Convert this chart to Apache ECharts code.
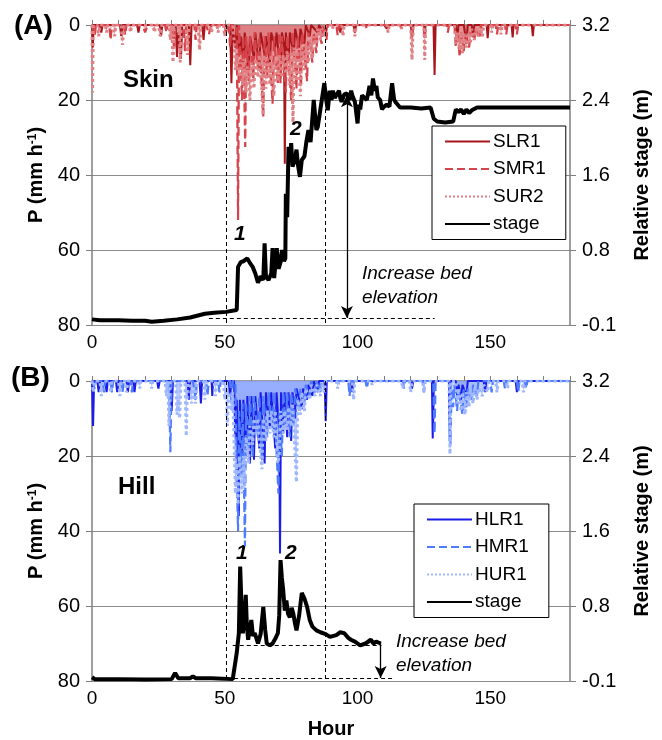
<!DOCTYPE html>
<html>
<head>
<meta charset="utf-8">
<script src="https://cdn.jsdelivr.net/npm/echarts@6/dist/echarts.min.js"></script>
<style>html,body{margin:0;padding:0;background:#fff}#c{width:662px;height:740px}</style>
</head>
<body>
<div id="c"></div>
<script>
// ---------- DATA ----------
const xTicks = [0, 50, 100, 150];
const pTicks = [0, 20, 40, 60, 80];
const stageTicks = ['-0.1', '0.8', '1.6', '2.4', '3.2'];
const eventHours = [50.5, 88];

// Panel A precipitation (hour, mm/h)
const SLR1 = [[0,0],[0.3,6],[0.6,0],[3,0],[3.5,2],[4,0],[10.5,0],[11,3],[11.5,0],[17,0],[17.5,2],[18,0],[25.5,0],[26,3],[26.5,0],[31.5,0],[32,8.5],[32.5,2],[33.5,9],[34,0],[36.5,0],[37,10.7],[37.5,0],[41.5,0],[42,4],[42.5,0],[50,0],[50.5,2],[51,0],[52,0],[52.5,15.5],[53,1],[54,6],[54.5,0],[55.5,8],[56,3],[57,10],[57.5,2],[59,12],[59.5,3],[61,9],[61.5,2],[63,12],[63.5,2],[65,8],[65.5,3],[67,10],[67.5,2],[69,6],[69.5,2],[71,13],[71.5,2],[72.3,5],[72.6,37],[73,2],[74,10],[74.5,2],[76,8],[76.5,1],[78,6],[78.5,1],[80,5],[80.5,0],[82,3],[82.5,0],[85,2],[85.5,0],[88,3],[88.5,0],[93,0],[93.5,2],[94,0],[98.5,0],[99,2],[99.5,0],[110,0],[111,1],[112,0],[120,0],[120.5,3],[121,0],[125,0],[125.3,3],[125.6,0],[128.6,0],[129,13.3],[129.4,0],[137,0],[137.5,4],[138,0],[140,0],[141,5],[141.5,0],[143,0],[143.5,3],[144,0],[148.6,0],[149,3.5],[149.4,0],[158,0],[158.4,3.3],[158.8,0],[165.6,0],[166,3],[166.4,0],[180,0]];
const SMR1 = [[0,0],[1,3],[1.5,0],[6.5,0],[7,4],[7.5,0],[12,0],[12.5,2.7],[13,0],[19,0],[20,2],[21,0],[27.5,0],[28,2],[28.5,0],[30,0],[31,6],[31.5,0],[34.5,0],[35,7],[35.5,0],[38.5,0],[39,4],[39.5,0],[43,0],[44,2.5],[45,0],[51.5,0],[52,6],[52.5,0],[54.5,0],[55,52],[55.4,0],[56,0],[56.5,20],[57,3],[57.7,32.5],[58.1,3],[59,15],[59.5,3],[60.7,14.7],[61.2,2],[62.5,12],[63,3],[64.5,24.5],[65,3],[66,14],[66.5,2],[68,21],[68.5,3],[70,16],[70.5,2],[71,15.5],[71.5,3],[73,18],[73.5,3],[75,20],[75.5,2],[77,17],[77.5,3],[78.7,16.5],[79.2,2],[81,15],[81.5,2],[83,10],[83.5,2],[84.5,7.5],[85,1],[86.5,5],[87,0],[88.3,4],[88.8,0],[92,0],[92.5,2.7],[93,0],[103,0],[103.5,1],[104,0],[116,0],[116.5,1],[117,0],[120,0],[120.5,4],[121,0],[124.8,0],[125.3,4],[125.8,0],[133.5,0],[134,2],[134.5,0],[136.5,0],[137,6],[137.5,2],[138.5,8.5],[139,2],[140,7],[140.5,3],[142,6],[142.5,2],[144,4],[144.5,1],[146,3],[146.5,0],[152,0],[152.5,2.5],[153,0],[155.5,0],[156,2.5],[156.5,0],[159.5,0],[160,2.5],[160.5,0],[180,0]];
const SUR2 = [[0,0],[0.2,18],[0.5,0],[2,0],[2.5,3],[3,0],[5,0],[5.5,2],[6,0],[8,0],[8.5,3],[9,0],[11,0],[11.5,5.3],[12,0],[14,0],[14.5,2],[15,0],[23,0],[23.5,2],[24,0],[25,0],[25.7,3],[26.3,0],[29,0],[29.5,4],[30,0],[30.5,10],[31,0],[32.8,0],[33.2,10],[33.6,0],[35.5,0],[36,8],[36.5,0],[40,0],[40.5,6.7],[41,0],[44.5,0],[45,2],[45.5,0],[47,0],[47.5,2],[48,0],[49.5,0],[50,3],[50.5,0],[53,0],[53.5,4],[54,12],[54.5,8],[55.5,14],[56,10],[56.8,16],[57.2,9],[58,18],[58.5,11],[59.5,20],[60,10],[61,17],[61.5,9],[62.5,14],[63,8],[64,18],[64.4,24],[64.8,8],[65.5,17],[66,9],[67,16],[67.5,8],[68.5,19],[69,9],[70,15],[70.5,8],[71.5,14],[72,8],[73,13],[73.5,7],[74.5,16],[75,7],[75.7,26],[76.1,6],[77,15],[77.5,7],[78.5,19],[79,6],[80,12],[80.5,5],[81.5,10],[82,4],[83,9],[83.5,3],[84.5,6],[85,1],[86,4],[86.5,1],[87.5,3],[88,0],[90,0],[90.5,1],[91,0],[94,0],[94.5,3],[95,0],[98.5,0],[99,3],[99.5,0],[111,0],[111.5,2],[112,0],[116,0],[116.5,1],[117,0],[120,0],[120.5,9.3],[121,0],[125,0],[125.3,9.3],[125.6,0],[136.5,0],[137,5],[137.5,2],[138.5,6.7],[139,2],[139.5,7.5],[140,2],[141,6],[141.5,2],[142.5,5],[143,1],[144,4],[144.5,1],[145.5,3],[146,1],[147,3],[147.5,0],[150,0],[150.5,2],[151,0],[153.5,0],[154,2.5],[154.5,0],[180,0]];

// Panel B precipitation (hour, mm/h)
const HLR1 = [[0,0],[0.4,12],[0.8,0],[2,0],[2.5,3],[3,0],[5,0],[5.5,3],[6,0],[9,0],[9.5,3],[10,0],[13,0],[13.5,3],[14,0],[15.5,0],[16,3],[16.5,0],[24.5,0],[25,2],[25.5,0],[29.5,0],[30,8],[30.5,0],[36,0],[36.5,5],[37,0],[40.5,0],[41,6],[41.5,0],[45,0],[45.3,4],[45.6,0],[51.5,0],[52,4],[52.5,0],[53.5,0],[54,15],[54.5,5],[55.3,36],[55.7,5],[56.5,22],[57,5],[58,20],[58.5,4],[59.5,22],[60,4],[61,21],[61.5,4],[63,18],[63.5,3],[65,22],[65.5,3],[67,12],[67.5,3],[69,18],[69.5,3],[70.5,14],[70.8,46],[71.2,3],[72,14],[72.5,3],[73.5,15],[74,3],[75,16],[75.5,3],[76.5,10],[77,2],[79,7.5],[79.5,2],[81,5],[81.5,1],[83,4],[83.5,0],[85,3],[85.5,0],[87.6,0],[88,10.7],[88.4,0],[97.5,0],[98,3],[98.5,0],[120,0],[120.5,2],[121,0],[128,0],[128.3,15.3],[128.7,0],[134.4,0],[134.7,16],[135,0],[137,0],[137.5,4],[138,1],[139,5],[139.5,1],[141,4],[141.5,0],[147.5,0],[148,3],[148.5,0],[159.5,0],[160,3],[160.5,0],[180,0]];
const HMR1 = [[0,0],[1,2],[1.5,0],[4,0],[4.5,3],[5,0],[7,0],[7.5,3],[8,0],[11,0],[11.5,3],[12,0],[14.5,0],[15,3],[15.5,0],[29,0],[29.5,19],[30,0],[38,0],[39,5],[39.5,0],[43,0],[43.5,4],[44,0],[47.5,0],[48,3],[48.5,0],[52,0],[52.5,6],[53,0],[54,0],[54.5,25],[55,40],[55.4,8],[56.3,25],[56.7,6],[57.6,44],[58,6],[59,18],[59.5,4],[60.5,20],[61,4],[62.5,15],[63,4],[64,21],[64.5,4],[66,15],[66.5,3],[68,13],[68.5,3],[70.2,30],[70.6,8],[71.5,20],[72,3],[73,12],[73.5,3],[74.5,15],[75,3],[76,12],[76.5,2],[78,8],[78.5,2],[80,6],[80.5,1],[82,4],[82.5,0],[84,3],[84.5,0],[86,3],[86.5,0],[96.5,0],[97,4],[97.5,0],[103,0],[103.5,2],[104,0],[117,0],[117.5,2],[118,0],[124.5,0],[125,3],[125.5,0],[128.5,0],[129,14],[129.4,0],[134.5,0],[135,17],[135.4,2],[136,7],[136.5,1],[137.5,8],[138,2],[139.5,9],[140,2],[141,7],[141.5,2],[143,5],[143.5,1],[145,4],[145.5,0],[150,0],[150.5,3],[151,0],[155,0],[155.5,2],[156,0],[160,0],[160.5,3],[161,0],[163,0],[163.5,2],[164,0],[180,0]];
const HUR1 = [[0,0],[0.5,3],[1,0],[3,0],[3.5,4],[4,0],[6.5,0],[7,3],[7.5,0],[10,0],[10.5,4],[11,0],[12.5,0],[13,3],[13.5,0],[17.5,0],[18,2],[18.5,0],[22,0],[22.5,2],[23,0],[27.5,0],[28,4],[28.5,0],[29,12],[29.5,0],[31.5,0],[32,9],[32.5,5],[33,10],[33.5,0],[35,0],[35.5,14.7],[36,0],[37,0],[37.5,6],[38,2],[39,6],[39.5,0],[42,0],[42.5,5],[43,0],[46,0],[46.5,4],[47,0],[49.5,0],[50,5],[50.5,2],[51,12],[51.5,3],[52.5,8],[53,3],[54,30],[54.5,22],[55,33],[55.5,20],[56.5,30],[57,20],[57.5,28],[58,15],[59,22],[59.5,12],[60.5,17],[61,10],[62,14],[62.5,10],[63.5,20],[64,23.5],[64.5,10],[65.5,16],[66,8],[67,14],[67.5,8],[68.5,15],[69,8],[70,22],[70.5,20],[71,8],[72,14],[72.5,8],[73.5,13],[74,7],[75,12],[75.5,6],[77,27],[77.5,5],[78.5,9],[79,3],[80,8],[80.5,2],[82,5],[82.5,1],[84,4],[84.5,1],[86,4],[86.5,1],[87.5,3],[88,0],[92,0],[92.5,2],[93,0],[98,0],[98.5,5],[99,0],[105,0],[105.5,1],[106,0],[116.5,0],[117,2],[117.5,0],[119.5,0],[120,3],[120.5,0],[124.5,0],[125,3],[125.5,0],[134.5,0],[134.8,19.5],[135.1,0],[137,0],[137.5,6],[138,2],[139,8],[139.5,3],[140.5,9],[141,3],[142,7],[142.5,2],[143.5,6],[144,2],[145,5],[145.5,2],[147,4],[147.5,1],[149,3],[149.5,0],[152,0],[152.5,3],[153,0],[156,0],[156.5,2],[157,0],[162,0],[162.5,3],[163,0],[180,0]];

// Relative stage (hour, m)
const stageA = [[0,0.06],[3,0.05],[10,0.05],[15,0.046],[20,0.046],[22.5,0.035],[27,0.045],[32,0.06],[37,0.08],[42.5,0.12],[46,0.13],[50.5,0.14],[54.5,0.16],[55,0.62],[56,0.67],[57,0.68],[58.5,0.71],[59.5,0.66],[60.5,0.62],[61.5,0.55],[62.5,0.45],[63.5,0.52],[64.5,0.48],[65,0.87],[65.5,0.52],[66.5,0.48],[67.5,0.55],[68,0.82],[68.6,0.5],[69.6,0.82],[70.3,0.6],[71,0.67],[71.6,0.8],[72.3,0.68],[72.8,0.71],[73,1.4],[73.5,1.15],[74,1.9],[74.5,1.75],[75,1.94],[75.5,1.69],[76.3,1.75],[77,1.87],[77.6,1.7],[78.3,1.58],[79,1.76],[80,1.8],[80.7,1.95],[81.5,2.08],[82.3,1.95],[83,1.97],[83.5,2.4],[84.5,2.08],[85,2.11],[86,2.3],[86.8,2.45],[87.5,2.58],[88.2,2.4],[88.8,2.29],[89.5,2.5],[90.2,2.4],[90.7,2.5],[91.4,2.42],[92,2.4],[93,2.5],[93.5,2.42],[94,2.38],[95,2.46],[96,2.47],[97,2.4],[97.6,2.5],[98,2.45],[99,2.38],[100,2.15],[100.5,2.35],[101,2.3],[101.7,2.45],[102.4,2.47],[103.5,2.4],[104.5,2.55],[105.2,2.45],[105.8,2.63],[106.5,2.5],[107.1,2.55],[107.6,2.43],[108.5,2.4],[109.2,2.3],[110,2.33],[111,2.35],[112,2.33],[113,2.58],[113.8,2.4],[114.5,2.37],[116,2.32],[120,2.32],[124,2.31],[127.5,2.32],[128.7,2.2],[130,2.17],[133,2.16],[136,2.17],[137,2.3],[138,2.27],[139,2.3],[140,2.25],[141,2.3],[142,2.26],[143,2.29],[145,2.32],[160,2.32],[180,2.32]];
const stageB = [[0,0.04],[1,0.02],[10,0.02],[20,0.015],[30,0.02],[31.3,0.085],[32.5,0.03],[37,0.03],[38,0.05],[39,0.03],[45,0.03],[53,0.02],[54.5,0.3],[55.3,0.51],[55.8,1.22],[56.3,0.8],[56.8,0.51],[57.5,0.7],[57.9,0.92],[58.3,0.6],[58.8,0.44],[59.4,0.55],[60,0.65],[60.6,0.48],[61.3,0.51],[62.5,0.4],[63.5,0.5],[64.5,0.79],[65.2,0.55],[65.8,0.4],[67,0.38],[68,0.4],[69,0.45],[70,0.51],[70.5,0.7],[71,1.29],[71.5,1.1],[72,0.97],[72.6,0.75],[73.2,0.86],[73.8,0.72],[74.5,0.68],[75.2,0.78],[75.8,0.72],[76.4,0.62],[77,0.54],[78,0.7],[79,0.94],[80,0.88],[81,0.79],[82,0.65],[83,0.58],[84.5,0.54],[86,0.52],[88,0.5],[89.6,0.47],[92,0.49],[93.5,0.52],[95,0.51],[96.5,0.46],[97.5,0.44],[99,0.42],[101,0.38],[103,0.4],[105,0.44],[106,0.4],[107,0.42],[108.7,0.4]];

// Bed-elevation reference levels: [startHour, endHour, stage m]
const bedA = [[44, 129, 0.075]];
const bedB = [[53, 109, 0.384], [53.5, 113.7, 0.032]];
// Bed-elevation arrows: [hour, fromStage, toStage]
const arrowA = [96, 2.45, 0.075];
const arrowB = [108.7, 0.42, 0.032];

// ---------- CHART ----------
const chart = echarts.init(document.getElementById('c'), null, {renderer: 'canvas'});
const FONT = 'Liberation Sans, Arial, sans-serif';
const gray = '#7f7f7f';

function xAxisDef(gi, withName) {
  return {
    type: 'value', gridIndex: gi, min: 0, max: 180, interval: 10,
    axisLine: {lineStyle: {color: gray, width: 1.5}},
    axisTick: {inside: true, length: 5, lineStyle: {color: gray}},
    splitLine: {show: false},
    axisLabel: {fontSize: 19, color: '#000', fontFamily: FONT, margin: 8,
      formatter: v => xTicks.includes(v) ? String(v) : ''},
    name: withName ? 'Hour' : '', nameLocation: 'middle', nameGap: 38,
    nameTextStyle: {fontSize: 20, fontWeight: 'bold', color: '#000', fontFamily: FONT}
  };
}
function pAxisDef(gi) {
  return {
    type: 'value', gridIndex: gi, inverse: true, min: 0, max: 80, interval: 20, position: 'left',
    axisLine: {show: true, lineStyle: {color: gray, width: 1.5}},
    axisTick: {show: true, length: 6, lineStyle: {color: gray}},
    splitLine: {show: true, lineStyle: {color: '#8c8c8c', width: 1.2}},
    axisLabel: {fontSize: 20, color: '#000', fontFamily: FONT, margin: 12,
      formatter: v => pTicks.includes(v) ? String(v) : ''},
    name: 'P (mm h{sup|-1})', nameLocation: 'middle', nameRotate: 90, nameGap: 40,
    nameTextStyle: {fontSize: 20, fontWeight: 'bold', color: '#000', fontFamily: FONT,
      rich: {sup: {fontSize: 12, fontWeight: 'bold', verticalAlign: 'top', padding: [0,0,8,0], fontFamily: FONT}}}
  };
}
function stageAxisDef(gi) {
  return {
    type: 'value', gridIndex: gi, min: 0, max: 3.2, interval: 0.8, position: 'right',
    axisLine: {show: true, lineStyle: {color: gray, width: 1.5}},
    axisTick: {show: true, length: 6, lineStyle: {color: gray}},
    splitLine: {show: false},
    axisLabel: {fontSize: 20, color: '#000', fontFamily: FONT, margin: 12,
      formatter: v => stageTicks[Math.round(v / 0.8)]},
    name: 'Relative stage (m)', nameLocation: 'middle', nameRotate: 90, nameGap: 62,
    nameTextStyle: {fontSize: 20, fontWeight: 'bold', color: '#000', fontFamily: FONT}
  };
}
function precip(name, data, color, type, width, fillOpacity, xi, yi) {
  return {name, type: 'line', data, xAxisIndex: xi, yAxisIndex: yi, symbol: 'none', showSymbol: false,
    lineStyle: {color, type, width}, itemStyle: {color},
    areaStyle: {color, opacity: fillOpacity, origin: 'start'},
    animation: false, clip: true};
}
function stageSeries(data, xi, yi, bed) {
  const ml = [];
  eventHours.forEach(h => ml.push([{coord: [h, 3.2]}, {coord: [h, 0]}]));
  bed.forEach(b => ml.push([{coord: [b[0], b[2]]}, {coord: [b[1], b[2]]}]));
  return {
    name: 'stage', type: 'line', data, xAxisIndex: xi, yAxisIndex: yi, symbol: 'none', showSymbol: false,
    lineStyle: {color: '#000', width: 4}, itemStyle: {color: '#000'}, animation: false, z: 5,
    markLine: {silent: true, symbol: 'none', animation: false, label: {show: false},
      lineStyle: {color: '#000', type: [4, 3], width: 1}, data: ml},
  };
}
function arrowSeries(arrow, xi, yi, syms) {
  return {
    name: 'arrow', type: 'line', data: [], xAxisIndex: xi, yAxisIndex: yi, symbol: 'none',
    z: 6,
    markLine: {silent: true, animation: false, symbol: syms, symbolSize: [9, 12], label: {show: false},
      lineStyle: {color: '#000', type: 'solid', width: 1.3},
      data: [[{coord: [arrow[0], arrow[1]]}, {coord: [arrow[0], arrow[2]]}]]}
  };
}

const legendCommon = {
  orient: 'vertical', backgroundColor: '#fff', borderColor: '#000', borderWidth: 1,
  padding: [6, 20, 6, 12], itemWidth: 45, itemHeight: 14, itemGap: 8.5,
  itemStyle: {opacity: 0},
  textStyle: {fontSize: 19, color: '#000', fontFamily: FONT, lineHeight: 19, padding: [0,0,0,-2]},
  selectedMode: false
};

const option = {
  backgroundColor: '#fff',
  animation: false,
  grid: [
    {left: 92, right: 92, top: 25, height: 300},
    {left: 92, right: 92, top: 381, height: 300}
  ],
  xAxis: [xAxisDef(0, false), xAxisDef(1, true)],
  yAxis: [pAxisDef(0), stageAxisDef(0), pAxisDef(1), stageAxisDef(1)],
  legend: [
    Object.assign({}, legendCommon, {left: 432, top: 126, data: ['SLR1', 'SMR1', 'SUR2', 'stage']}),
    Object.assign({}, legendCommon, {left: 414, top: 504, data: ['HLR1', 'HMR1', 'HUR1', 'stage']})
  ],
  series: [
    precip('SLR1', SLR1, '#a8161b', 'solid', 2, 0.45, 0, 0),
    precip('SMR1', SMR1, '#d6434a', 'dashed', 2.2, 0.35, 0, 0),
    precip('SUR2', SUR2, '#e08285', 'dotted', 3, 0.75, 0, 0),
    stageSeries(stageA, 0, 1, bedA),
    arrowSeries(arrowA, 0, 1, ['arrow', 'arrow']),
    precip('HLR1', HLR1, '#1c1ce8', 'solid', 2, 0.45, 1, 2),
    precip('HMR1', HMR1, '#4f7cff', 'dashed', 2.2, 0.35, 1, 2),
    precip('HUR1', HUR1, '#9fb7ff', 'dotted', 3, 0.75, 1, 2),
    stageSeries(stageB, 1, 3, bedB),
    arrowSeries(arrowB, 1, 3, ['none', 'arrow'])
  ],
  graphic: [
    {type: 'text', left: 14, top: 12, style: {text: '(A)', font: 'bold 28px ' + FONT, fill: '#000'}},
    {type: 'text', left: 11, top: 364, style: {text: '(B)', font: 'bold 28px ' + FONT, fill: '#000'}},
    {type: 'text', left: 123, top: 68, style: {text: 'Skin', font: 'bold 24px ' + FONT, fill: '#000'}},
    {type: 'text', left: 118, top: 475, style: {text: 'Hill', font: 'bold 24px ' + FONT, fill: '#000'}},
    {type: 'text', left: 234, top: 224, style: {text: '1', font: 'italic bold 21px ' + FONT, fill: '#000'}},
    {type: 'text', left: 290, top: 119, style: {text: '2', font: 'italic bold 21px ' + FONT, fill: '#000'}},
    {type: 'text', left: 236, top: 543, style: {text: '1', font: 'italic bold 21px ' + FONT, fill: '#000'}},
    {type: 'text', left: 285, top: 543, style: {text: '2', font: 'italic bold 21px ' + FONT, fill: '#000'}},
    {type: 'text', left: 362, top: 262, style: {text: 'Increase bed\nelevation', font: 'italic 19px ' + FONT, lineHeight: 24, fill: '#000'}},
    {type: 'text', left: 396, top: 630, style: {text: 'Increase bed\nelevation', font: 'italic 19px ' + FONT, lineHeight: 24, fill: '#000'}}
  ]
};
chart.setOption(option);
</script>
</body>
</html>
